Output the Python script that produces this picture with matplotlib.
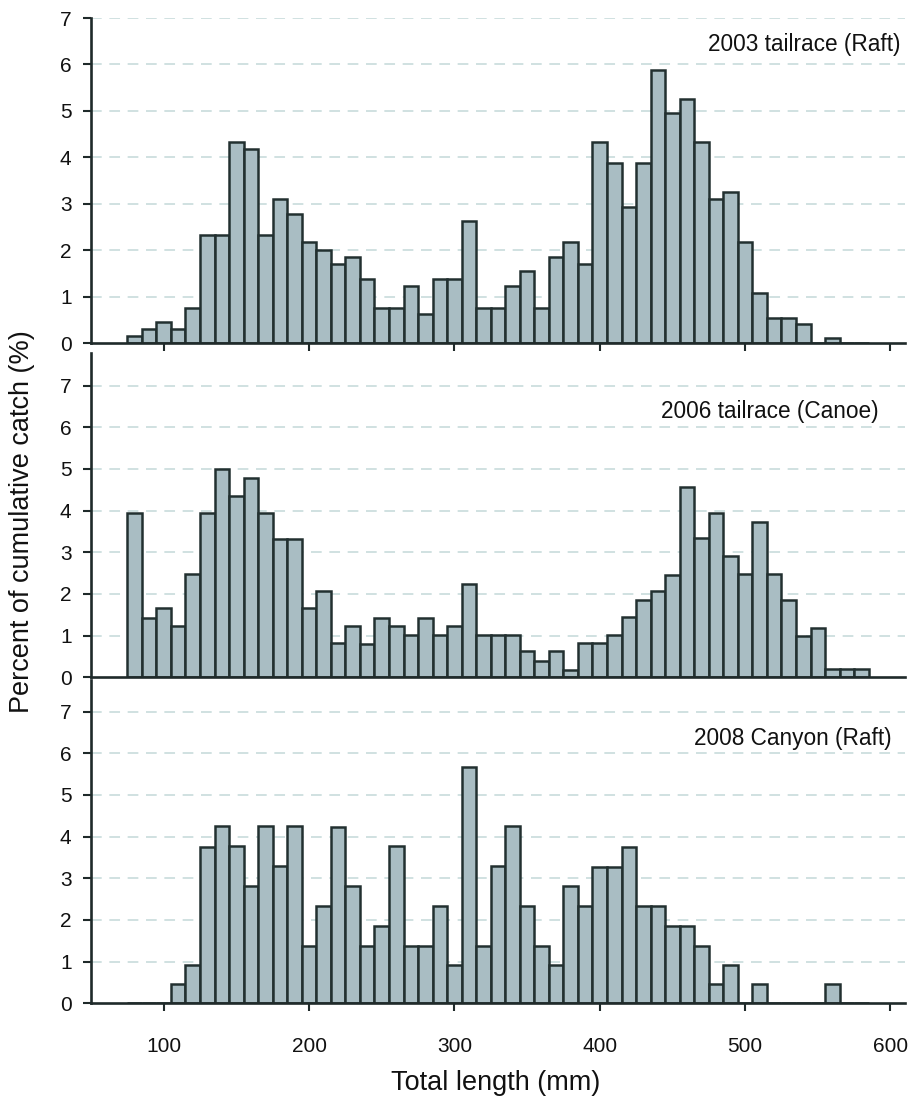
import matplotlib
matplotlib.use("Agg")
import matplotlib.pyplot as plt
import numpy as np

plt.rcParams['font.family'] = ['Liberation Sans', 'DejaVu Sans']

# Bin centres (total length, mm)
lengths = list(range(80, 590, 10))

# Percent of cumulative catch per 10-mm bin
pct_2003 = [0.15, 0.30, 0.45, 0.30, 0.77, 2.32, 2.32, 4.34, 4.19, 2.32,
            3.10, 2.79, 2.17, 2.01, 1.70, 1.86, 1.39, 0.77, 0.77, 1.24,
            0.62, 1.39, 1.39, 2.63, 0.77, 0.77, 1.24, 1.55, 0.77, 1.86,
            2.17, 1.70, 4.34, 3.87, 2.94, 3.87, 5.88, 4.95, 5.26, 4.34,
            3.10, 3.25, 2.17, 1.08, 0.54, 0.54, 0.41, 0.00, 0.12, 0.00,
            0.00]
pct_2006 = [3.95, 1.42, 1.66, 1.24, 2.48, 3.95, 4.99, 4.36, 4.79, 3.95,
            3.31, 3.31, 1.66, 2.06, 0.82, 1.22, 0.80, 1.42, 1.22, 1.02,
            1.42, 1.02, 1.22, 2.24, 1.02, 1.02, 1.02, 0.62, 0.40, 0.62,
            0.18, 0.82, 0.82, 1.02, 1.44, 1.85, 2.06, 2.46, 4.57, 3.34,
            3.94, 2.90, 2.48, 3.72, 2.48, 1.85, 1.00, 1.18, 0.20, 0.20,
            0.20]
pct_2008 = [0.00, 0.00, 0.00, 0.46, 0.92, 3.76, 4.26, 3.78, 2.82, 4.26,
            3.30, 4.26, 1.38, 2.34, 4.24, 2.82, 1.38, 1.86, 3.78, 1.38,
            1.38, 2.34, 0.92, 5.66, 1.38, 3.30, 4.26, 2.34, 1.38, 0.92,
            2.82, 2.34, 3.28, 3.28, 3.76, 2.34, 2.34, 1.86, 1.86, 1.38,
            0.46, 0.92, 0.00, 0.46, 0.00, 0.00, 0.00, 0.00, 0.46, 0.00,
            0.00]

panel_titles = ["2003 tailrace (Raft)", "2006 tailrace (Canoe)", "2008 Canyon (Raft)"]
x_ticks = [100, 200, 300, 400, 500, 600]
y_ticks = [0, 1, 2, 3, 4, 5, 6, 7]

W, H = 912, 1104
fig = plt.figure(figsize=(W / 100, H / 100), dpi=100)

def fy(px):
    return 1 - px / H

left = 91 / W
width = (905 - 91) / W
# (top px, bottom px, ymax, title pos in axes coords)
layout = [
    (18, 343.3, 7.0, (0.994, 0.917)),
    (353, 677.3, 7.78, (0.967, 0.819)),
    (680, 1003.3, 7.76, (0.984, 0.820)),
]
data = [pct_2003, pct_2006, pct_2008]

bar_face = '#a9bdc3'
bar_edge = '#223030'
axis_col = '#1f2a2a'
grid_col = '#c3d8d8'
text_col = '#111111'

axes = []
for i, ((top, bot, ymax, tpos), vals, title) in enumerate(zip(layout, data, panel_titles)):
    ax = fig.add_axes([left, fy(bot), width, (bot - top) / H])
    ax.set_xlim(50, 610)
    ax.set_ylim(0, ymax)
    ax.set_yticks(y_ticks)
    for yv in y_ticks[1:]:
        ax.axhline(yv, color=grid_col, lw=1.1, ls=(0, (7, 5)), zorder=0)
    ax.bar(lengths, vals, width=10, color=bar_face, edgecolor=bar_edge,
           linewidth=1.8, zorder=2)
    for s in ['top', 'right']:
        ax.spines[s].set_visible(False)
    for s in ['left', 'bottom']:
        ax.spines[s].set_color(axis_col)
        ax.spines[s].set_linewidth(1.9)
        ax.spines[s].set_zorder(3)
    ax.tick_params(axis='y', direction='out', length=6, width=1.5,
                   color=axis_col, labelsize=15, pad=8, labelcolor=text_col)
    if i == 1:
        ax.set_xticks([])
    else:
        ax.set_xticks(x_ticks)
        ax.tick_params(axis='x', direction='out', length=6, width=1.5,
                       color=axis_col, labelsize=15, pad=18, labelcolor=text_col)
        if i == 0:
            ax.set_xticklabels([])
    ax.text(tpos[0], tpos[1], title, transform=ax.transAxes, ha='right',
            va='center', fontsize=16.3, color=text_col)
    ax.set_facecolor('none')
    axes.append(ax)

fig.text(496 / W, fy(1083), "Total length (mm)", ha='center', va='center',
         fontsize=19.5, color=text_col)
fig.text(22 / W, fy(522), "Percent of cumulative catch (%)", ha='center',
         va='center', rotation=90, fontsize=19.5, color=text_col)

fig.savefig("out.png", dpi=100)
